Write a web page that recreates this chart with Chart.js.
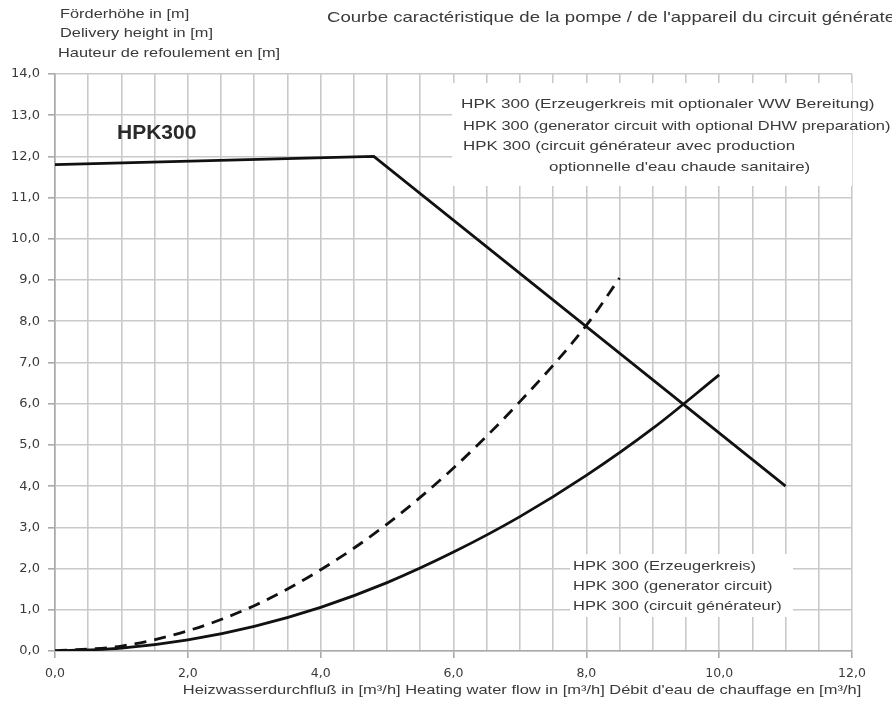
<!DOCTYPE html>
<html>
<head>
<meta charset="utf-8">
<script src="https://cdn.jsdelivr.net/npm/chart.js@4.4.1/dist/chart.umd.min.js"></script>
<style>
html,body{margin:0;padding:0;background:#fff;}
#wrap{width:892px;height:717px;position:relative;}
</style>
</head>
<body>
<div id="wrap"><canvas id="c" width="892" height="717"></canvas></div>
<script>
// Pump characteristic (Förderhöhe) curve
const pumpX = [0.0, 4.8, 11.0];
const pumpY = [11.8, 12.0, 4.0];
// System curve: generator circuit (solid)
const genX = [0, 1, 2, 3, 4, 5, 6, 7, 8, 9, 10];
const genY = [0, 0.07, 0.27, 0.6, 1.06, 1.66, 2.4, 3.26, 4.26, 5.4, 6.7];
// System curve: generator circuit with optional DHW (dashed)
const dhwX = [0, 1, 2, 3, 4, 5, 6, 7, 8, 8.5];
const dhwY = [0, 0.12, 0.49, 1.1, 1.97, 3.08, 4.44, 6.05, 7.9, 9.05];
// Tick labels
const xTickLabels = ['0,0', '2,0', '4,0', '6,0', '8,0', '10,0', '12,0'];
const yTickLabels = ['0,0','1,0','2,0','3,0','4,0','5,0','6,0','7,0','8,0','9,0','10,0','11,0','12,0','13,0','14,0'];
// Texts
const yTitleLines = ['Förderhöhe in [m]', 'Delivery height in [m]', 'Hauteur de refoulement en [m]'];
const chartTitle = "Courbe caractéristique de la pompe / de l'appareil du circuit générateur";
const xTitle = 'Heizwasserdurchfluß in [m³/h] Heating water flow in [m³/h] Débit d\'eau de chauffage en [m³/h]';
const modelLabel = 'HPK300';
const dhwLabelLines = ['HPK 300 (Erzeugerkreis mit optionaler WW Bereitung)', 'HPK 300 (generator circuit with optional DHW preparation)', 'HPK 300 (circuit générateur avec production', 'optionnelle d\'eau chaude sanitaire)'];
const genLabelLines = ['HPK 300 (Erzeugerkreis)', 'HPK 300 (generator circuit)', 'HPK 300 (circuit générateur)'];

const toPts = (xs, ys) => xs.map((x, i) => ({x: x, y: ys[i]}));
const FONT = '"Liberation Sans", Arial, sans-serif';
const TICKFONT = '"DejaVu Sans", sans-serif';
const TXT = '#3a3a3a';

function wideText(ctx, text, x, y, font, sx, align) {
  ctx.save();
  ctx.font = font;
  ctx.textBaseline = 'middle';
  ctx.textAlign = 'left';
  let w = ctx.measureText(text).width * sx;
  let x0 = align === 'center' ? x - w / 2 : x;
  ctx.translate(x0, y);
  ctx.scale(sx, 1);
  ctx.fillText(text, 0, 0);
  ctx.restore();
}

const textPlugin = {
  id: 'texts',
  beforeDatasetsDraw(chart) {
    const ctx = chart.ctx;
    ctx.save();
    ctx.fillStyle = '#fff';
    ctx.fillRect(452, 83, 400, 103);
    ctx.fillRect(570, 554, 223, 63);
    ctx.fillStyle = TXT;
    const f = '13.5px ' + FONT;
    wideText(ctx, dhwLabelLines[0], 461, 104, f, 1.27);
    wideText(ctx, dhwLabelLines[1], 463, 126, f, 1.22);
    wideText(ctx, dhwLabelLines[2], 463, 146, f, 1.25);
    wideText(ctx, dhwLabelLines[3], 549, 167, f, 1.25);
    wideText(ctx, genLabelLines[0], 573, 566, f, 1.22);
    wideText(ctx, genLabelLines[1], 573, 586, f, 1.22);
    wideText(ctx, genLabelLines[2], 573, 606, f, 1.22);
    ctx.fillStyle = '#2a2a2a';
    wideText(ctx, modelLabel, 117, 133, 'bold 21px ' + FONT, 1.0);
    ctx.restore();
  },
  afterDraw(chart) {
    const ctx = chart.ctx;
    ctx.save();
    ctx.fillStyle = TXT;
    const f = '13px ' + FONT;
    wideText(ctx, yTitleLines[0], 60, 14, f, 1.26);
    wideText(ctx, yTitleLines[1], 60, 33, f, 1.26);
    wideText(ctx, yTitleLines[2], 58, 53, f, 1.26);
    wideText(ctx, chartTitle, 327, 18, '15px ' + FONT, 1.24);
    wideText(ctx, xTitle, 522, 690, '13.5px ' + FONT, 1.22, 'center');
    ctx.restore();
  }
};

new Chart(document.getElementById('c'), {
  type: 'scatter',
  data: {
    datasets: [
      {label: 'pump', data: toPts(pumpX, pumpY), showLine: true, borderColor: '#111', borderWidth: 2.8, pointRadius: 0, tension: 0},
      {label: 'gen', data: toPts(genX, genY), showLine: true, borderColor: '#111', borderWidth: 2.8, pointRadius: 0, cubicInterpolationMode: 'monotone'},
      {label: 'dhw', data: toPts(dhwX, dhwY), showLine: true, borderColor: '#111', borderWidth: 2.8, borderDash: [12, 8], pointRadius: 0, cubicInterpolationMode: 'monotone'}
    ]
  },
  options: {
    responsive: false,
    animation: false,
    events: [],
    layout: {padding: {top: 74, right: 40, bottom: 15, left: 0}},
    plugins: {legend: {display: false}, tooltip: {enabled: false}},
    scales: {
      x: {
        type: 'linear', min: 0, max: 12,
        afterFit(s) { s.height = 51; },
        ticks: {
          stepSize: 0.5, autoSkip: false, maxRotation: 0, padding: 8,
          color: TXT, font: {family: TICKFONT, size: 12.5},
          callback(v) { return (Math.abs(v % 2) < 1e-9) ? xTickLabels[Math.round(v / 2)] : ''; }
        },
        grid: {color: '#c9c9c9', lineWidth: 1.6, tickLength: 7,
          tickColor(c) { return (c.tick && Math.abs(c.tick.value % 2) < 1e-9) ? '#aaa' : 'rgba(0,0,0,0)'; }},
        border: {color: '#aaa', width: 1.6},
        title: {display: false}
      },
      y: {
        min: 0, max: 14,
        afterFit(s) { s.width = 55; },
        ticks: {
          stepSize: 1, autoSkip: false, padding: 8,
          color: TXT, font: {family: TICKFONT, size: 13},
          callback(v) { return yTickLabels[Math.round(v)]; }
        },
        grid: {color: '#c9c9c9', lineWidth: 1.6, tickLength: 7, tickColor: '#aaa'},
        border: {color: '#aaa', width: 1.6}
      }
    }
  },
  plugins: [textPlugin]
});
</script>
</body>
</html>
